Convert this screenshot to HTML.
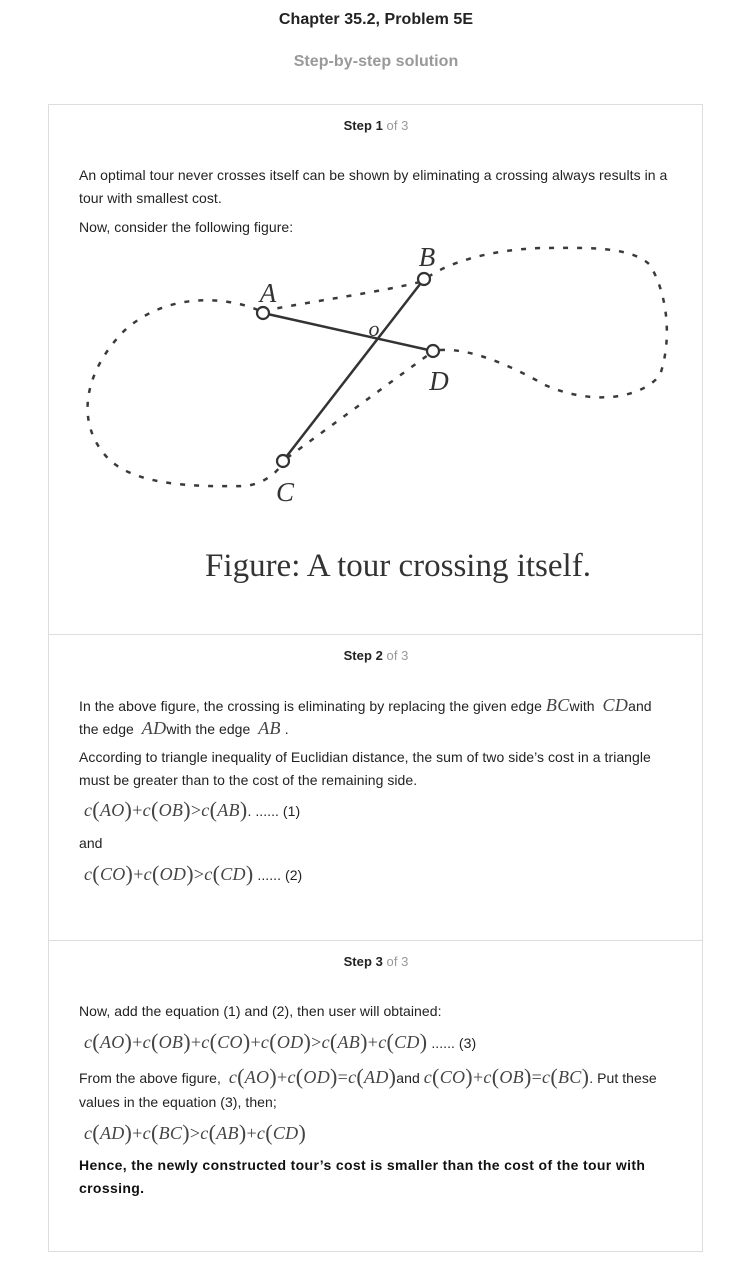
<!DOCTYPE html>
<html><head><meta charset="utf-8">
<style>
body{margin:0;width:752px;height:1278px;background:#fff;position:relative;font-family:"Liberation Sans",Arial,sans-serif;color:#222;overflow:hidden}
.a{position:absolute;white-space:nowrap;font-size:14px;line-height:16px;letter-spacing:0.05px}
.m{font-family:"Liberation Serif",serif;font-size:18px;color:#444;letter-spacing:0.3px}
.m i{font-style:italic}
.p{font-size:22px;display:inline-block;transform:translateY(1px)}
.card{position:absolute;left:48px;width:655px;border:1px solid #ddd;box-sizing:border-box}
.step{position:absolute;left:0;width:752px;text-align:center;font-size:13px;font-weight:bold;color:#222}
.step span{font-weight:normal;color:#999}
</style></head><body>
<div class="a" style="left:0;width:752px;text-align:center;top:12px;font-size:16px;font-weight:bold;color:#222">Chapter 35.2, Problem 5E</div>
<div class="a" style="left:0;width:752px;text-align:center;top:54px;font-size:16px;font-weight:bold;color:#999">Step-by-step solution</div>

<div class="card" style="top:104px;height:531px"></div>
<div class="card" style="top:634px;height:307px"></div>
<div class="card" style="top:940px;height:312px"></div>

<div class="step a" style="top:118px;font-size:13px">Step 1 <span>of 3</span></div>
<div class="a" style="left:79px;top:167px">An optimal tour never crosses itself can be shown by eliminating a crossing always results in a</div>
<div class="a" style="left:79px;top:190px">tour with smallest cost.</div>
<div class="a" style="left:79px;top:219px">Now, consider the following figure:</div>

<svg style="position:absolute;left:0;top:0" width="752" height="640">
<g fill="none" stroke="#3a3a3a" stroke-width="2.5" stroke-dasharray="5,9">
<path d="M258,310 C230,298 170,290 125,330 C85,370 75,420 105,455 C130,485 190,487 245,486 C262,484 275,475 283,463"/>
<path d="M287,458 L428,355"/>
<path d="M440,350 C470,348 510,365 545,385 C590,405 640,400 660,375 C672,340 668,295 650,265 C630,245 580,248 540,248 C490,250 450,262 428,277"/>
<path d="M420,282 C380,292 320,300 268,310"/>
</g>
<g stroke="#333" stroke-width="2.5">
<line x1="263" y1="313" x2="433" y2="351"/>
<line x1="424" y1="279" x2="283" y2="461"/>
</g>
<g fill="#fff" stroke="#333" stroke-width="2.2">
<circle cx="263" cy="313" r="6"/><circle cx="424" cy="279" r="6"/><circle cx="433" cy="351" r="6"/><circle cx="283" cy="461" r="6"/>
</g>
<g font-family="Liberation Serif,serif" font-style="italic" font-size="27" fill="#333">
<text x="268" y="302" text-anchor="middle">A</text>
<text x="427" y="266" text-anchor="middle">B</text>
<text x="374" y="336" text-anchor="middle" font-size="22">o</text>
<text x="439" y="390" text-anchor="middle">D</text>
<text x="285" y="501" text-anchor="middle">C</text>
</g>
<text x="398" y="576" text-anchor="middle" font-family="Liberation Serif,serif" font-size="33" fill="#333">Figure: A tour crossing itself.</text>
</svg>

<div class="step a" style="top:648px;font-size:13px">Step 2 <span>of 3</span></div>
<div class="a" style="left:79px;top:697px">In the above figure, the crossing is eliminating by replacing the given edge <span class="m"><i>BC</i></span>with &nbsp;<span class="m"><i>CD</i></span>and</div>
<div class="a" style="left:79px;top:720px">the edge &nbsp;<span class="m"><i>AD</i></span>with the edge &nbsp;<span class="m"><i>AB</i></span> .</div>
<div class="a" style="left:79px;top:749px">According to triangle inequality of Euclidian distance, the sum of two side’s cost in a triangle</div>
<div class="a" style="left:79px;top:772px">must be greater than to the cost of the remaining side.</div>
<div class="a" style="left:84px;top:801px"><span class="m"><i>c</i><span class="p">(</span><i>AO</i><span class="p">)</span>+<i>c</i><span class="p">(</span><i>OB</i><span class="p">)</span>&gt;<i>c</i><span class="p">(</span><i>AB</i><span class="p">)</span></span>. ...... (1)</div>
<div class="a" style="left:79px;top:835px">and</div>
<div class="a" style="left:84px;top:865px"><span class="m"><i>c</i><span class="p">(</span><i>CO</i><span class="p">)</span>+<i>c</i><span class="p">(</span><i>OD</i><span class="p">)</span>&gt;<i>c</i><span class="p">(</span><i>CD</i><span class="p">)</span></span> ...... (2)</div>

<div class="step a" style="top:954px;font-size:13px">Step 3 <span>of 3</span></div>
<div class="a" style="left:79px;top:1003px">Now, add the equation (1) and (2), then user will obtained:</div>
<div class="a" style="left:84px;top:1033px"><span class="m"><i>c</i><span class="p">(</span><i>AO</i><span class="p">)</span>+<i>c</i><span class="p">(</span><i>OB</i><span class="p">)</span>+<i>c</i><span class="p">(</span><i>CO</i><span class="p">)</span>+<i>c</i><span class="p">(</span><i>OD</i><span class="p">)</span>&gt;<i>c</i><span class="p">(</span><i>AB</i><span class="p">)</span>+<i>c</i><span class="p">(</span><i>CD</i><span class="p">)</span></span> ...... (3)</div>
<div class="a" style="left:79px;top:1068px">From the above figure, &nbsp;<span class="m"><i>c</i><span class="p">(</span><i>AO</i><span class="p">)</span>+<i>c</i><span class="p">(</span><i>OD</i><span class="p">)</span>=<i>c</i><span class="p">(</span><i>AD</i><span class="p">)</span></span>and <span class="m"><i>c</i><span class="p">(</span><i>CO</i><span class="p">)</span>+<i>c</i><span class="p">(</span><i>OB</i><span class="p">)</span>=<i>c</i><span class="p">(</span><i>BC</i><span class="p">)</span></span>. Put these</div>
<div class="a" style="left:79px;top:1094px">values in the equation (3), then;</div>
<div class="a" style="left:84px;top:1124px"><span class="m"><i>c</i><span class="p">(</span><i>AD</i><span class="p">)</span>+<i>c</i><span class="p">(</span><i>BC</i><span class="p">)</span>&gt;<i>c</i><span class="p">(</span><i>AB</i><span class="p">)</span>+<i>c</i><span class="p">(</span><i>CD</i><span class="p">)</span></span></div>
<div class="a" style="left:79px;top:1157px;font-weight:bold;color:#111;letter-spacing:0.35px">Hence, the newly constructed tour’s cost is smaller than the cost of the tour with</div>
<div class="a" style="left:79px;top:1180px;font-weight:bold;color:#111;letter-spacing:0.35px">crossing.</div>
</body></html>
